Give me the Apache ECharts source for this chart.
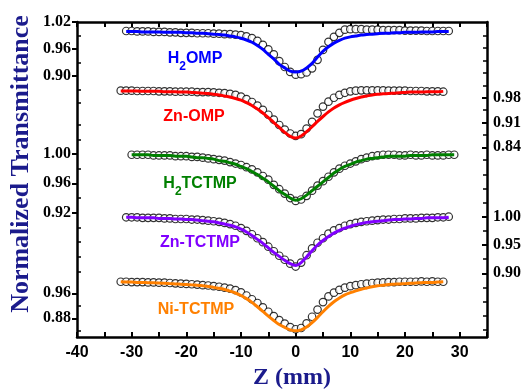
<!DOCTYPE html>
<html><head><meta charset="utf-8">
<script src="https://cdn.jsdelivr.net/npm/echarts@6/dist/echarts.min.js"></script>
<style>html,body{margin:0;padding:0;background:#fff}#c{width:525px;height:392px}</style>
</head><body><div id="c"></div>
<script>
// Z positions (mm)
const z = [-32,-31,-30,-29,-28,-27,-26,-25,-24,-23,
  -22,-21,-20,-19,-18,-17,-16,-15,-14,-13,
  -12,-11,-10,-9,-8,-7,-6,-5,-4,-3,
  -2,-1,0,1,2,3,4,5,6,7,
  8,9,10,11,12,13,14,15,16,17,
  18,19,20,21,22,23,24,25,26,27,
  28,29];

// H2OMP
const h2ompPts = [null,1.000,1.000,0.999,0.999,0.999,0.998,0.998,0.998,0.997,
  0.997,0.996,0.996,0.996,0.995,0.995,0.995,0.994,0.994,0.993,
  0.993,0.992,0.991,0.988,0.984,0.978,0.969,0.959,0.948,0.933,
  0.920,0.909,0.903,0.904,0.908,0.917,0.936,0.958,0.976,0.987,
  0.996,1.003,1.004,1.004,1.004,1.003,1.003,1.003,1.002,1.002,
  1.002,1.002,1.001,1.001,1.001,1.001,1.000,1.000,1.000,1.000,
  1.000,null];
const h2ompFit = [null,0.999,0.999,0.999,0.998,0.998,0.998,0.998,0.997,0.997,
  0.997,0.997,0.996,0.996,0.995,0.995,0.994,0.993,0.992,0.991,
  0.989,0.987,0.984,0.980,0.975,0.968,0.959,0.948,0.938,0.926,
  0.918,0.911,0.909,0.911,0.918,0.928,0.942,0.955,0.965,0.973,
  0.979,0.984,0.987,0.989,0.991,0.992,0.993,0.994,0.995,0.995,
  0.996,0.996,0.997,0.997,0.997,0.998,0.998,0.998,0.999,0.999,
  0.999,null];

// Zn-OMP
const znompPts = [1.000,1.000,1.000,0.999,0.999,0.999,0.999,0.998,0.998,0.998,
  0.997,0.997,0.997,0.997,0.996,0.996,0.996,0.995,0.994,0.993,
  0.991,0.988,0.983,0.976,0.968,0.958,0.946,0.932,0.918,0.903,
  0.890,0.879,0.872,0.877,0.893,0.912,0.936,0.955,0.969,0.980,
  0.988,0.994,0.998,1.000,1.001,1.001,1.001,1.001,1.001,1.000,
  1.000,1.000,1.000,0.999,0.999,0.999,0.998,0.998,0.998,0.997,
  null,null];
const znompFit = [0.999,0.999,0.999,0.999,0.998,0.998,0.998,0.998,0.997,0.997,
  0.997,0.996,0.996,0.995,0.994,0.993,0.992,0.990,0.988,0.985,
  0.982,0.978,0.973,0.966,0.958,0.948,0.937,0.924,0.910,0.896,
  0.882,0.871,0.866,0.872,0.884,0.898,0.913,0.927,0.940,0.951,
  0.960,0.967,0.973,0.978,0.982,0.985,0.988,0.990,0.991,0.992,
  0.993,0.994,0.995,0.996,0.996,0.996,0.997,0.997,0.997,0.998,
  null,null];

// H2TCTMP
const h2tcPts = [null,null,0.999,0.999,0.999,0.999,0.998,0.998,0.998,0.998,
  0.997,0.997,0.997,0.996,0.996,0.995,0.994,0.993,0.992,0.991,
  0.989,0.987,0.985,0.982,0.979,0.975,0.970,0.965,0.958,0.952,
  0.946,0.940,0.936,0.938,0.943,0.950,0.957,0.963,0.969,0.975,
  0.980,0.984,0.987,0.990,0.993,0.995,0.997,0.998,0.999,0.999,
  0.999,0.998,0.998,0.999,0.998,0.998,0.999,0.998,0.998,0.998,
  0.999,0.999];
const h2tcFit = [null,null,0.999,0.999,0.999,0.999,0.998,0.998,0.998,0.998,
  0.997,0.997,0.997,0.996,0.995,0.995,0.994,0.993,0.991,0.990,
  0.988,0.986,0.983,0.980,0.976,0.972,0.967,0.962,0.956,0.950,
  0.945,0.940,0.937,0.939,0.944,0.950,0.956,0.962,0.968,0.974,
  0.979,0.983,0.986,0.989,0.991,0.993,0.994,0.995,0.996,0.997,
  0.997,0.997,0.997,0.998,0.998,0.998,0.998,0.999,0.999,0.999,
  0.999,0.999];

// Zn-TCTMP
const zntcPts = [null,0.999,0.999,0.999,0.998,0.998,0.998,0.998,0.997,0.997,
  0.996,0.996,0.996,0.995,0.995,0.994,0.993,0.992,0.991,0.989,
  0.987,0.984,0.980,0.975,0.969,0.962,0.955,0.947,0.939,0.931,
  0.924,0.917,0.912,0.919,0.932,0.944,0.954,0.962,0.970,0.976,
  0.980,0.984,0.987,0.989,0.991,0.992,0.993,0.994,0.995,0.995,
  0.996,0.996,0.997,0.997,0.997,0.998,0.998,0.998,0.999,0.999,
  1.000,null];
const zntcFit = [null,0.999,0.999,0.998,0.998,0.998,0.998,0.997,0.997,0.997,
  0.996,0.996,0.995,0.995,0.994,0.993,0.992,0.991,0.989,0.987,
  0.985,0.982,0.978,0.973,0.967,0.960,0.953,0.945,0.937,0.930,
  0.923,0.917,0.914,0.919,0.929,0.940,0.950,0.958,0.965,0.971,
  0.976,0.980,0.983,0.986,0.988,0.990,0.991,0.992,0.993,0.994,
  0.995,0.995,0.996,0.996,0.997,0.997,0.998,0.998,0.998,0.998,
  0.999,null];

// Ni-TCTMP
const nitcPts = [0.997,0.997,0.996,0.996,0.996,0.995,0.995,0.994,0.994,0.993,
  0.992,0.991,0.990,0.989,0.988,0.986,0.985,0.983,0.981,0.978,
  0.975,0.970,0.963,0.953,0.941,0.929,0.915,0.901,0.887,0.874,
  0.863,0.852,0.845,0.849,0.864,0.885,0.908,0.932,0.950,0.962,
  0.971,0.978,0.983,0.986,0.989,0.991,0.993,0.994,0.995,0.996,
  0.996,0.997,0.997,0.997,0.997,0.998,0.997,0.998,0.997,0.997,
  null,null];
const nitcFit = [0.997,0.996,0.996,0.995,0.995,0.994,0.994,0.993,0.992,0.991,
  0.990,0.989,0.988,0.987,0.986,0.984,0.982,0.979,0.976,0.972,
  0.967,0.961,0.953,0.943,0.931,0.917,0.902,0.887,0.873,0.860,
  0.851,0.843,0.840,0.843,0.852,0.866,0.883,0.901,0.918,0.933,
  0.945,0.955,0.962,0.968,0.973,0.977,0.981,0.984,0.986,0.988,
  0.989,0.990,0.991,0.992,0.993,0.994,0.995,0.995,0.996,0.997,
  null,null];

// x-axis ticks / labels
const xLabels = [-40,-30,-20,-10,0,10,20,30];
const xTicks = [-40,-35,-30,-25,-20,-15,-10,-5,0,5,10,15,20,25,30,35];

// y-axis tick labels (major) and minor ticks per sample
const h2ompLabels = [1.02,0.96,0.90];
const h2ompMinor = [0.99,0.93,0.87,0.84];
const znompLabels = [0.98,0.91,0.84];
const znompMinor = [1.155,1.12,1.085,1.05,1.015,0.945,0.875,0.805];
const h2tcLabels = [1.00,0.96,0.92];
const h2tcMinor = [1.04,1.02,0.98,0.94,0.90,0.88,0.86,0.84];
const zntcLabels = [1.00,0.95,0.90];
const zntcMinor = [1.075,1.05,1.025,0.975,0.925,0.875,0.85,0.825,0.80];
const nitcLabels = [0.96,0.88];
const nitcMinor = [0.92,0.84];

const samples = [
  {color:'#0000ff', pts:h2ompPts, fit:h2ompFit, side:'left',  min:0.32,   max:1.02,   labels:h2ompLabels, minor:h2ompMinor},
  {color:'#ff0000', pts:znompPts, fit:znompFit, side:'right', min:0.304,  max:1.194,  labels:znompLabels, minor:znompMinor},
  {color:'#008000', pts:h2tcPts,  fit:h2tcFit,  side:'left',  min:0.7506, max:1.1799, labels:h2tcLabels,  minor:h2tcMinor},
  {color:'#8000ff', pts:zntcPts,  fit:zntcFit,  side:'right', min:0.7875, max:1.344,  labels:zntcLabels,  minor:zntcMinor},
  {color:'#ff8000', pts:nitcPts,  fit:nitcFit,  side:'left',  min:0.8202, max:1.8282, labels:nitcLabels,  minor:nitcMinor}
];

const pairs = arr => z.map((x,i)=>arr[i]==null?null:[x,arr[i]]).filter(p=>p);

const yAxis = [];
const series = [];
samples.forEach((s,k)=>{
  yAxis.push({
    type:'value', gridIndex:0, position:s.side, min:s.min, max:s.max, offset:0,
    splitLine:{show:false},
    axisLine:{show:(k===0||k===1), onZero:false, lineStyle:{color:'#000', width:2.5}},
    axisTick:{show:true, inside:s.side==='right', length:5, lineStyle:{color:'#000', width:2}, customValues:s.labels},
    axisLabel:{show:true, customValues:s.labels, margin:6,
      formatter:v=>Number(v).toFixed(2),
      color:'#000', fontFamily:'"Liberation Serif","Times New Roman",serif', fontWeight:'bold', fontSize:16}
  });
  yAxis.push({
    type:'value', gridIndex:0, position:s.side, min:s.min, max:s.max, offset:0,
    splitLine:{show:false}, axisLine:{show:false, onZero:false},
    axisTick:{show:true, inside:true, length:4, lineStyle:{color:'#000', width:1.5}, customValues:s.minor},
    axisLabel:{show:false}
  });
  series.push({
    type:'scatter', xAxisIndex:0, yAxisIndex:2*k, data:pairs(s.pts),
    symbol:'circle', symbolSize:7.5,
    itemStyle:{color:'#fff', borderColor:'#000', borderWidth:1.2},
    z:2, silent:true
  });
  series.push({
    type:'line', xAxisIndex:0, yAxisIndex:2*k, data:pairs(s.fit),
    showSymbol:false, symbol:'none', smooth:0.3,
    lineStyle:{color:s.color, width:3}, z:3, silent:true
  });
});

const xCommon = {
  type:'value', gridIndex:0, min:-40, max:35,
  splitLine:{show:false},
  axisLine:{show:true, onZero:false, lineStyle:{color:'#000', width:2.5}},
  axisTick:{show:true, inside:true, length:5, lineStyle:{color:'#000', width:2}, customValues:xTicks}
};

const navy = '#1b1b8c';
const lblFont = '"Liberation Sans",Arial,sans-serif';
function lbl(x,y,text,color){
  return {type:'text', x:x, y:y, z:10, style:{text:text, fill:color, font:'bold 16px '+lblFont, align:'center', verticalAlign:'middle'}};
}
function lblSub(x,y,a,b,color){
  return {type:'text', x:x, y:y, z:10, style:{
    text:'{a|'+a+'}{s|2}{a|'+b+'}', align:'center', verticalAlign:'middle',
    rich:{
      a:{fill:color, fontSize:16, fontWeight:'bold', fontFamily:lblFont, lineHeight:28},
      s:{fill:color, fontSize:12, fontWeight:'bold', fontFamily:lblFont, lineHeight:11, verticalAlign:'bottom'}
    }}};
}

const option = {
  animation:false,
  backgroundColor:'#fff',
  grid:[{left:77, right:38, top:22, bottom:55, outerBoundsMode:'none', containLabel:false}],
  xAxis:[
    Object.assign({}, xCommon, {position:'bottom',
      axisLabel:{show:true, customValues:xLabels, margin:8, color:'#000', fontFamily:lblFont, fontWeight:'bold', fontSize:16}}),
    Object.assign({}, xCommon, {position:'top', axisLabel:{show:false}})
  ],
  yAxis:yAxis,
  series:series,
  graphic:[
    lblSub(195,59,'H','OMP','#0000ff'),
    lbl(194,117,'Zn-OMP','#ff0000'),
    lblSub(200,184,'H','TCTMP','#008000'),
    lbl(200,243,'Zn-TCTMP','#8000ff'),
    lbl(196,310,'Ni-TCTMP','#ff8000'),
    {type:'text', x:21, y:164, rotation:Math.PI/2, z:10,
      style:{text:'Normalized Transmittance', fill:navy, font:'bold 26px "Liberation Serif","Times New Roman",serif', align:'center', verticalAlign:'middle'}},
    {type:'text', x:292, y:378, z:10,
      style:{text:'Z (mm)', fill:navy, font:'bold 24px "Liberation Serif","Times New Roman",serif', align:'center', verticalAlign:'middle'}}
  ]
};

const chart = echarts.init(document.getElementById('c'), null, {renderer:'canvas'});
chart.setOption(option);
</script>
</body></html>
